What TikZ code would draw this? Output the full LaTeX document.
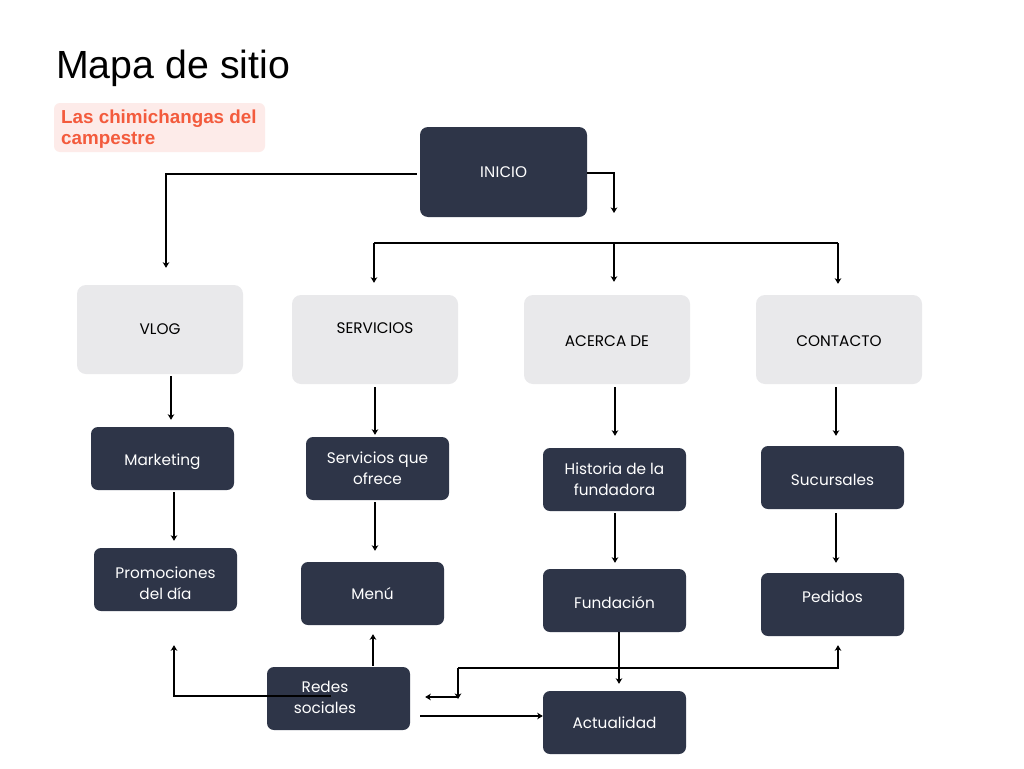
\documentclass[tikz,border=0pt]{standalone}
\usepackage{fontspec}
\setmainfont{Poppins}
\newfontfamily\titlefont{Liberation Sans}
\newfontfamily\inifont{Liberation Sans}
\usetikzlibrary{arrows.meta,calc}
\definecolor{darkc}{RGB}{46,53,72}
\definecolor{lightc}{RGB}{233,233,235}
\definecolor{pinkbg}{RGB}{253,235,233}
\definecolor{tomatoc}{RGB}{243,91,61}
\newcommand{\shiftv}[2]{\raisebox{#1}[\height][\depth]{#2}}
\tikzset{
  darkbox/.style={fill=darkc, rounded corners=7pt, minimum width=143pt, minimum height=63pt,
    text=white, align=center, inner sep=0pt, font=\fontsize{15.3}{21}\selectfont},
  lightbox/.style={fill=lightc, rounded corners=9pt, minimum width=166pt, minimum height=89pt,
    text=black, align=center, inner sep=0pt, font=\fontsize{15.3}{21}\selectfont},
  conn/.style={line width=2pt, black},
  arr/.style={conn, -{Stealth[length=5.5pt,width=6.5pt,inset=1.5pt]}},
}
\begin{document}
\begin{tikzpicture}[x=1pt,y=-1pt]
\useasboundingbox[fill=white] (0,0) rectangle (1024,768);

% title and subtitle
\node[anchor=base west, inner sep=0pt, font=\titlefont\fontsize{39.3}{44}\selectfont] (title) at (56,78) {Mapa de sitio};
\fill[pinkbg, rounded corners=6pt] (54,103) rectangle (265,152);
\node[anchor=north west, inner sep=0pt, align=left, text=tomatoc,
  font=\titlefont\bfseries\fontsize{18.8}{21}\selectfont] (sub) at (61,110) {Las chimichangas del\\campestre};

% boxes
\node[darkbox, minimum width=167pt, minimum height=90pt, rounded corners=8pt,
  font=\inifont\fontsize{15.5}{20}\selectfont] (inicio) at (503.5,172) {INICIO};
\node[lightbox] (vlog) at (160,329.5) {VLOG};
\node[lightbox] (serv) at (375,339.5) {\shiftv{11pt}{SERVICIOS}};
\node[lightbox] (acerca) at (607,339.5) {\shiftv{-2pt}{ACERCA DE}};
\node[lightbox] (cont) at (839,339.5) {\shiftv{-2pt}{CONTACTO}};

\node[darkbox] (mkt) at (162.5,458.5) {\shiftv{-3pt}{Marketing}};
\node[darkbox] (promo) at (165.5,579.5) {\shiftv{-5.5pt}{\begin{tabular}{@{}c@{}}Promociones\\del día\end{tabular}}};
\node[darkbox] (sqo) at (377.5,468.5) {Servicios que\\ofrece};
\node[darkbox] (menu) at (372.5,593.5) {Menú};
\node[darkbox] (hist) at (614.5,479.5) {Historia de la\\fundadora};
\node[darkbox] (fund) at (614.5,600.5) {\shiftv{-2pt}{Fundación}};
\node[darkbox] (suc) at (832.5,477.5) {\shiftv{-2pt}{Sucursales}};
\node[darkbox] (ped) at (832.5,604.5) {\shiftv{8pt}{Pedidos}};
\node[darkbox] (redes) at (338.5,698.5) {\begin{tabular}{@{}c@{}}Redes\\sociales\end{tabular}\hspace*{27pt}};
\node[darkbox] (act) at (614.5,722.5) {Actualidad};

% connectors from INICIO
\draw[arr] ([xshift=-3pt,yshift=-2pt]inicio.west) -| ([xshift=6pt,yshift=17pt]vlog.north);
\coordinate (inir) at (614,213);
\draw[arr] ([yshift=-1pt]inicio.east) -| (inir);
\coordinate (busL) at (374,243);
\coordinate (busM) at (614,243);
\coordinate (busR) at (838,243);
\draw[conn] (busL) -- (busR);
\draw[arr] (busL) -- ([xshift=-1pt,yshift=12pt]serv.north);
\draw[arr] (busM) -- ([xshift=7pt,yshift=13pt]acerca.north);
\draw[arr] (busR) -- ([xshift=-1pt,yshift=11pt]cont.north);

% columns
\draw[arr] ([xshift=11pt,yshift=-2pt]vlog.south) -- ([xshift=8.5pt,yshift=7pt]mkt.north);
\draw[arr] ([xshift=11.5pt,yshift=-2pt]mkt.south) -- ([xshift=8.5pt,yshift=7pt]promo.north);
\draw[arr] ([yshift=-3pt]serv.south) -- ([xshift=-2.5pt,yshift=2pt]sqo.north);
\draw[arr] ([xshift=-2.5pt,yshift=-2pt]sqo.south) -- ([xshift=2.5pt,yshift=11pt]menu.north);
\draw[arr] ([xshift=8pt,yshift=-3pt]acerca.south) -- ([xshift=0.5pt,yshift=12pt]hist.north);
\draw[arr] ([xshift=0.5pt,yshift=-2pt]hist.south) -- ([xshift=0.5pt,yshift=6pt]fund.north);
\draw[arr] ([xshift=4.5pt]fund.south) -- ([xshift=4.5pt,yshift=7pt]act.north);
\draw[arr] ([xshift=-3pt,yshift=-3pt]cont.south) -- ([xshift=3.5pt,yshift=10pt]suc.north);
\draw[arr] ([xshift=3.5pt,yshift=-4pt]suc.south) -- ([xshift=3.5pt,yshift=10pt]ped.north);

% Redes sociales connectors
\draw[arr] ([xshift=34.5pt,yshift=1pt]redes.north) -- ([xshift=0.5pt,yshift=-9pt]menu.south);
\draw[arr] ([xshift=-7.5pt,yshift=2.5pt]redes.center) -| ([xshift=8.5pt,yshift=-34pt]promo.south);
\draw[arr] ([xshift=10pt,yshift=-17.5pt]redes.east) -- ([yshift=6.5pt]act.west);
\coordinate (jn) at (458,668);
\coordinate (kn) at (458,697);
\draw[arr] (jn) -| ([xshift=5.5pt,yshift=-9pt]ped.south);
\draw[arr] (jn) -- ([yshift=-2pt]kn);
\draw[arr] (kn) -- ([xshift=15pt,yshift=1.5pt]redes.east);
\end{tikzpicture}
\end{document}
